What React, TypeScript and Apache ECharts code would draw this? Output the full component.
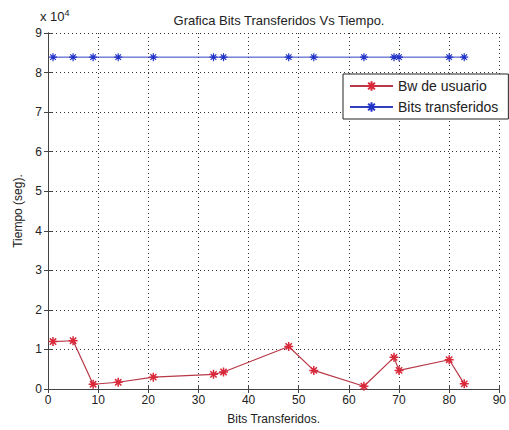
import React, { useEffect, useRef } from "react";
import * as echarts from "echarts";

const bitsX = [1, 5, 9, 14, 21, 33, 35, 48, 53, 63, 69, 70, 80, 83];
const bwUsuario = [12000, 12200, 1200, 1700, 3000, 3700, 4300, 10750, 4700, 700, 8000, 4700, 7400, 1300];
const bitsTransferidos = [83900, 83900, 83900, 83900, 83900, 83900, 83900, 83900, 83900, 83900, 83900, 83900, 83900, 83900];
const seriesNames = ["Bw de usuario", "Bits transferidos"];
const titleText = "Grafica Bits Transferidos Vs Tiempo.";
const xLabel = "Bits Transferidos.";
const yLabel = "Tiempo (seg).";

const STAR = "path://M5,0L5,10M0,5L10,5M1.5,1.5L8.5,8.5M1.5,8.5L8.5,1.5";
const FONT = "Liberation Sans, Arial, sans-serif";

export default function App() {
  const ref = useRef<HTMLDivElement>(null);
  useEffect(() => {
    const chart = echarts.init(ref.current!, null, { renderer: "svg" });
    const red = "#d8283a";
    const blue = "#2233c8";
    const axisCommon = {
      axisLine: { show: true, lineStyle: { color: "#444", width: 1 } },
      axisTick: { show: true, inside: true, length: 4, lineStyle: { color: "#444" } },
    };
    chart.setOption({
      animation: false,
      backgroundColor: "#fff",
      textStyle: { fontFamily: FONT },
      grid: { left: 48, right: 8, top: 33, bottom: 36, containLabel: false },
      title: {
        text: titleText,
        left: 274,
        textAlign: "center",
        top: 9,
        textStyle: { fontSize: 13, fontWeight: "normal", color: "#222", fontFamily: FONT },
      },
      graphic: [
        {
          type: "text",
          left: 40,
          top: 8,
          style: {
            text: "x 10{sup|4}",
            fontSize: 13,
            fill: "#222",
            fontFamily: FONT,
            rich: { sup: { fontSize: 9, verticalAlign: "top", padding: [0, 0, 8, 0], fill: "#222" } },
          },
        },
      ],
      legend: {
        orient: "vertical",
        left: 343,
        top: 74,
        data: seriesNames,
        backgroundColor: "#fff",
        borderColor: "#222",
        borderWidth: 1,
        borderRadius: 0,
        padding: [5, 10, 5, 6],
        itemGap: 7,
        itemWidth: 43,
        itemHeight: 12,
        textStyle: { fontSize: 14, color: "#222", fontFamily: FONT, lineHeight: 14 },
      },
      xAxis: [
        {
          type: "value",
          min: 0,
          max: 90,
          interval: 10,
          name: xLabel,
          nameLocation: "middle",
          nameGap: 24,
          nameTextStyle: { fontSize: 12, color: "#222", fontFamily: FONT },
          ...axisCommon,
          axisLabel: { color: "#222", fontSize: 12, margin: 5, fontFamily: FONT },
          splitLine: { show: true, lineStyle: { color: "#333", type: [1, 3], width: 1 } },
        },
        {
          type: "value",
          position: "top",
          min: 0,
          max: 90,
          interval: 10,
          ...axisCommon,
          axisLabel: { show: false },
          splitLine: { show: false },
        },
      ],
      yAxis: [
        {
          type: "value",
          min: 0,
          max: 90000,
          interval: 10000,
          name: yLabel,
          nameLocation: "middle",
          nameGap: 19,
          nameTextStyle: { fontSize: 12, color: "#222", fontFamily: FONT },
          ...axisCommon,
          axisLabel: {
            color: "#222",
            fontSize: 12,
            margin: 6,
            fontFamily: FONT,
            formatter: (v: number) => String(v / 10000),
          },
          splitLine: { show: true, lineStyle: { color: "#333", type: [1, 3], width: 1 } },
        },
        {
          type: "value",
          position: "right",
          min: 0,
          max: 90000,
          interval: 10000,
          ...axisCommon,
          axisLabel: { show: false },
          splitLine: { show: false },
        },
      ],
      series: [
        {
          name: seriesNames[0],
          type: "line",
          data: bitsX.map((x, i) => [x, bwUsuario[i]]),
          symbol: STAR,
          symbolSize: 9,
          showAllSymbol: true,
          lineStyle: { color: "#b83848", width: 1.2 },
          itemStyle: { color: red, borderColor: red, borderWidth: 1.5 },
        },
        {
          name: seriesNames[1],
          type: "line",
          data: bitsX.map((x, i) => [x, bitsTransferidos[i]]),
          symbol: STAR,
          symbolSize: 8,
          showAllSymbol: true,
          lineStyle: { color: "#3040c0", width: 1 },
          itemStyle: { color: blue, borderColor: blue, borderWidth: 1.2 },
        },
      ],
    });
    return () => chart.dispose();
  }, []);
  return (
    <div
      ref={ref}
      style={{ position: "fixed", left: 0, top: 0, width: 509, height: 430 }}
    />
  );
}
